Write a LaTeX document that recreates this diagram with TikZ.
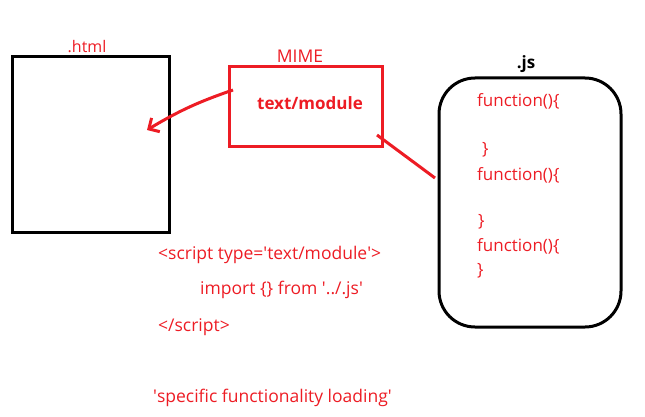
\documentclass[tikz,border=0pt]{standalone}
\usepackage{fontspec}
\setmainfont{Open Sans}
\usetikzlibrary{arrows.meta}
\definecolor{paintred}{RGB}{237,28,36}
\newcommand{\sq}{\textquotesingle}
\begin{document}
\begin{tikzpicture}[x=1pt,y=-1pt,
		redlabel/.style={color=paintred,font=\fontsize{17.5}{20}\selectfont,inner sep=0},
		codeline/.style={redlabel,anchor=west},
		jsline/.style={codeline,font=\fontsize{17}{20}\selectfont},
		filebox/.style={draw=black,line width=3pt,inner sep=0},
		redline/.style={draw=paintred,line width=3pt}]
		\useasboundingbox (0,0) rectangle (645,417);
		\node [filebox,minimum width=157,minimum height=175] (html) at (90.5,144.5) {};
		\node [redlabel,font=\fontsize{16}{18}\selectfont,anchor=south] (htmllabel) at (87,53) {.html};
		\node [filebox,draw=paintred,minimum width=153,minimum height=80] (mime) at (305.5,107) {};
		\node [redlabel,anchor=south] (mimelabel) at (300,63) {MIME};
		\node [redlabel,font=\fontsize{17}{20}\selectfont\bfseries] (module) at (310,103) {text/module};
		\node [filebox,rounded corners=36pt,minimum width=182,minimum height=249] (js) at (530,202.5) {};
		\node [font=\fontsize{17}{20}\selectfont\bfseries,inner sep=0,anchor=south] (jslabel) at (526,73) {.js};
		\node [jsline] (fa) at (477,101) {function()\{};
		\node [jsline] (ca) at (482,150) {\}};
		\node [jsline] (fb) at (477,175) {function()\{};
		\node [jsline] (cb) at (478,222) {\}};
		\node [jsline] (fc) at (477,246) {function()\{};
		\node [jsline] (cc) at (477,271) {\}};
		\node [codeline] (open) at (158,255) {<script type=\sq text/module\sq>};
		\node [codeline] (import) at (200,290) {import \{\} from \sq../.js\sq};
		\node [codeline] (close) at (158,327) {</script>};
		\node [codeline] (note) at (153,398) {\sq specific functionality loading\sq};
		\coordinate (from) at (233,90);
		\coordinate (to) at (147,130);
		\coordinate (tail) at (377,135);
		\coordinate (head) at (435,178);
		\draw [redline,-{Straight Barb[length=8pt,width=16pt]}] (from) to[bend right=6] (to);
		\draw [redline] (tail) -- (head);
	\end{tikzpicture}
\end{document}
